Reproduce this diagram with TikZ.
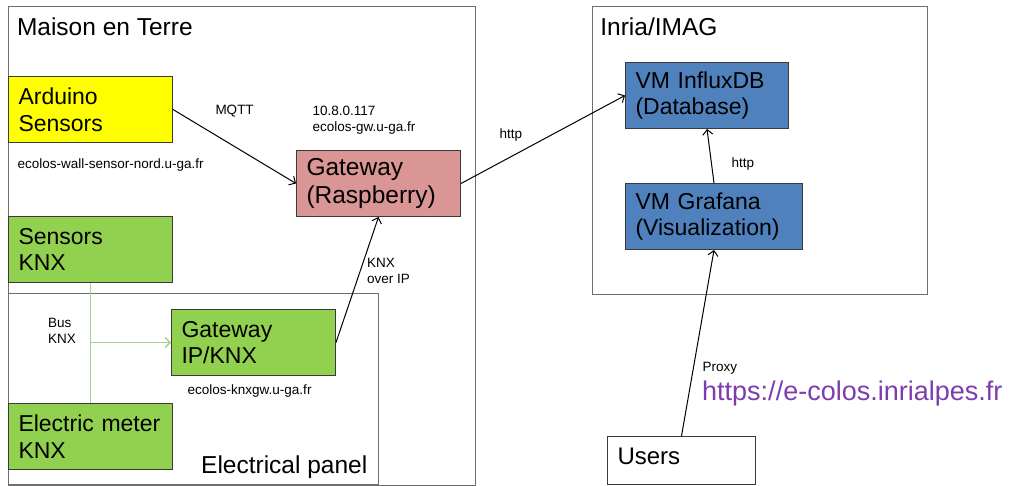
\documentclass[tikz,border=0pt]{standalone}
\usepackage{fontspec}
\setmainfont{Liberation Sans}
\usetikzlibrary{arrows.meta}
\definecolor{ylw}{HTML}{FFFF00}
\definecolor{grn}{HTML}{92D050}
\definecolor{pnk}{HTML}{D99694}
\definecolor{blu}{HTML}{4F81BD}
\definecolor{busgreen}{HTML}{A9D18E}
\definecolor{urlcol}{HTML}{7D3DAF}
\definecolor{framecol}{HTML}{6E6E6E}
\definecolor{edgecol}{HTML}{3A3A3A}
\begin{document}
\begin{tikzpicture}[x=1pt,y=-1pt,
  container/.style={draw=framecol,line width=1.2pt,anchor=north west,inner sep=0pt},
  box/.style={draw=edgecol,line width=1pt,anchor=north west,inner xsep=10pt,inner ysep=0pt,align=left,font=\fontsize{23}{26.6}\selectfont},
  bigtext/.style={font=\fontsize{24.5}{28.5}\selectfont},
  title/.style={anchor=base west,inner sep=0pt,font=\fontsize{24.5}{28.5}\selectfont},
  lbl/.style={anchor=base west,inner sep=0pt,align=left,font=\fontsize{13.5}{16}\selectfont},
  conn/.style={draw=black,line width=1pt,-{Straight Barb[length=5pt,width=10pt]}},
  bus/.style={draw=busgreen,line width=1.3pt},
]
\useasboundingbox (0,0) rectangle (1015,486);
\fill[white] (0,0) rectangle (1015,486);

% containers
\node[container,minimum width=467,minimum height=479] (maison) at (8,6) {};
\node[container,minimum width=370,minimum height=191] (panel) at (8,293) {};
\node[container,minimum width=335,minimum height=288] (inria) at (592,6) {};
\node[title] (maisont) at (16.8,35.5) {Maison en Terre};
\node[title] (inriat) at (600.2,35.5) {Inria/IMAG};
\node[title,anchor=base east] (panelt) at (367.5,473.5) {Electrical panel};

% boxes
\node[box,fill=ylw,minimum width=164,minimum height=66,text width=144] (ard) at (8,76) {Arduino\\Sensors};
\node[box,fill=grn,minimum width=164,minimum height=66,text width=144] (sknx) at (8,216) {Sensors\\KNX};
\node[box,fill=grn,minimum width=164,minimum height=66,text width=144] (meter) at (8,403) {Electric meter\\KNX};
\node[box,fill=grn,minimum width=164,minimum height=66,text width=144] (knxgw) at (171,309) {Gateway\\IP/KNX};
\node[box,bigtext,fill=pnk,minimum width=164,minimum height=66,text width=144] (gw) at (296,150) {Gateway\\(Raspberry)};
\node[box,fill=blu,minimum width=163,minimum height=66,text width=143] (influx) at (625,62) {VM InfluxDB\\(Database)};
\node[box,fill=blu,minimum width=177,minimum height=66,text width=157] (grafana) at (625,183) {VM Grafana\\(Visualization)};
\node[box,fill=white,minimum width=148,minimum height=48,text width=128,text depth=9pt,font=\fontsize{24}{28}\selectfont] (users) at (607,436) {Users};

% bus
\coordinate (busj) at (sknx.south |- knxgw.west);
\draw[bus] (sknx.south) -- (meter.north);
\draw[bus,-{Straight Barb[length=5pt,width=10pt]}] (busj) -- (knxgw.west);

% connectors
\draw[conn] (ard.east) -- (gw.west);
\draw[conn] (gw.east) -- (influx.west);
\draw[conn] (knxgw.east) -- (gw.south);
\draw[conn] (grafana.north) -- (influx.south);
\draw[conn] (users.north) -- (grafana.south);

% labels
\node[lbl] (mqtt) at (215.3,114.3) {MQTT};
\node[lbl] (gwaddr) at (312.5,131.7) {10.8.0.117\\ecolos-gw.u-ga.fr};
\node[lbl] (walladdr) at (17.5,168.3) {ecolos-wall-sensor-nord.u-ga.fr};
\node[lbl] (http1) at (499.5,138.5) {http};
\node[lbl] (http2) at (731.5,167.5) {http};
\node[lbl] (knxip) at (367,283.3) {KNX\\over IP};
\node[lbl] (buslbl) at (48,344) {Bus\\KNX};
\node[lbl] (knxgwaddr) at (187.5,394) {ecolos-knxgw.u-ga.fr};
\node[lbl] (proxy) at (702.5,371) {Proxy};
\node[anchor=base west,inner sep=0pt,text=urlcol,font=\fontsize{27}{31}\selectfont] (url) at (702,400) {https://e-colos.inrialpes.fr};
\end{tikzpicture}
\end{document}
